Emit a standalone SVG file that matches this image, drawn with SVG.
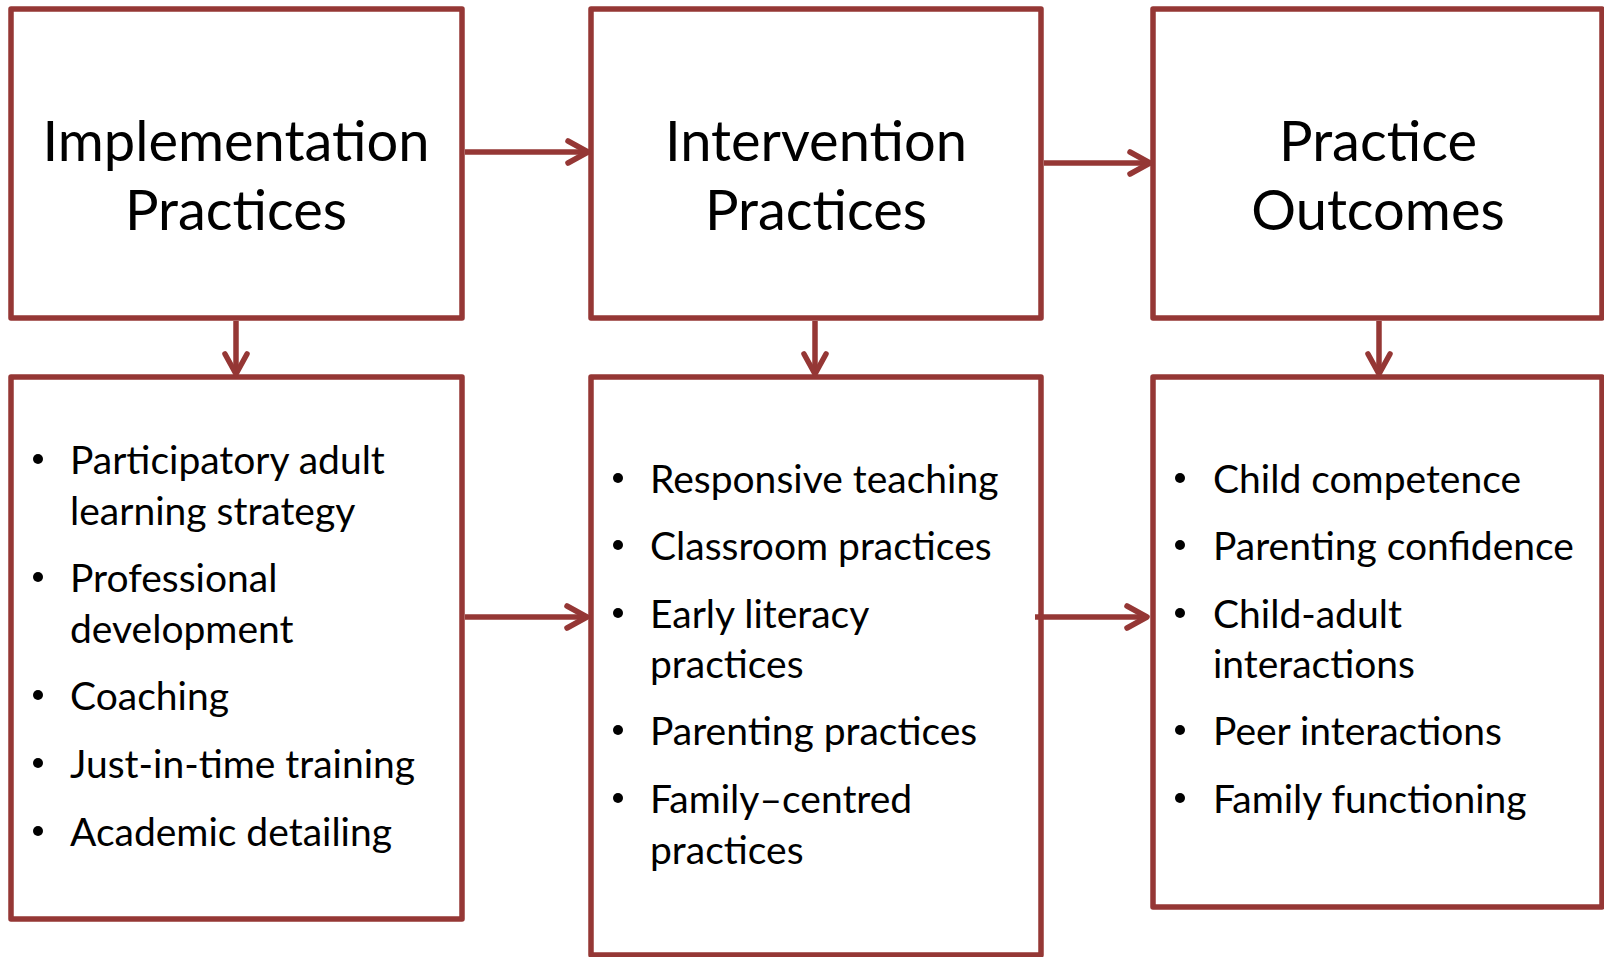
<svg xmlns="http://www.w3.org/2000/svg" width="1604" height="957" viewBox="0 0 1604 957">
<style>
.box{fill:#fff;stroke:#953735;stroke-width:5.5;stroke-linejoin:round}
.t{font-family:Lato,"Open Sans",sans-serif;fill:#000}
.title{font-size:56px;text-anchor:middle}
.item{font-size:39px}
.b{fill:#000}
.conn{stroke:#953735;stroke-width:5.5;fill:none}
</style>
<defs>
<marker id="ah" markerUnits="userSpaceOnUse" viewBox="-26 -16 32 32" refX="0" refY="0" markerWidth="32" markerHeight="32" orient="auto">
<path d="M-20,-11 L0,0 L-20,11" fill="none" stroke="#953735" stroke-width="5.5" stroke-linecap="round" stroke-linejoin="round"/>
</marker>
</defs>
<rect width="1604" height="957" fill="#fff"/>
<g id="implementation">
<rect class="box" x="11" y="9" width="451" height="309"/>
<text class="t title" x="236" y="161">Implementation</text>
<text class="t title" x="236" y="230">Practices</text>
</g>
<g id="intervention">
<rect class="box" x="591" y="9" width="450" height="309"/>
<text class="t title" x="816" y="161">Intervention</text>
<text class="t title" x="816" y="230">Practices</text>
</g>
<g id="outcomes">
<rect class="box" x="1153" y="9" width="449" height="309"/>
<text class="t title" x="1378" y="161">Practice</text>
<text class="t title" x="1378" y="230">Outcomes</text>
</g>
<g id="implementation-list">
<rect class="box" x="11" y="377" width="451" height="542"/>
<circle class="b" cx="38" cy="459" r="5"/>
<text class="t item" x="70" y="474">Participatory adult</text>
<text class="t item" x="70" y="525">learning strategy</text>
<circle class="b" cx="38" cy="577" r="5"/>
<text class="t item" x="70" y="592">Professional</text>
<text class="t item" x="70" y="643">development</text>
<circle class="b" cx="38" cy="695" r="5"/>
<text class="t item" x="70" y="710">Coaching</text>
<circle class="b" cx="38" cy="763" r="5"/>
<text class="t item" x="70" y="778">Just-in-time training</text>
<circle class="b" cx="38" cy="831" r="5"/>
<text class="t item" x="70" y="846">Academic detailing</text>
</g>
<g id="intervention-list">
<rect class="box" x="591" y="377" width="450" height="578"/>
<circle class="b" cx="618" cy="478" r="5"/>
<text class="t item" x="650" y="493">Responsive teaching</text>
<circle class="b" cx="618" cy="545" r="5"/>
<text class="t item" x="650" y="560">Classroom practices</text>
<circle class="b" cx="618" cy="613" r="5"/>
<text class="t item" x="650" y="628">Early literacy</text>
<text class="t item" x="650" y="678">practices</text>
<circle class="b" cx="618" cy="730" r="5"/>
<text class="t item" x="650" y="745">Parenting practices</text>
<circle class="b" cx="618" cy="798" r="5"/>
<text class="t item" x="650" y="813">Family–centred</text>
<text class="t item" x="650" y="864">practices</text>
</g>
<g id="outcomes-list">
<rect class="box" x="1153" y="377" width="449" height="530"/>
<circle class="b" cx="1180" cy="478" r="5"/>
<text class="t item" x="1213" y="493">Child competence</text>
<circle class="b" cx="1180" cy="545" r="5"/>
<text class="t item" x="1213" y="560">Parenting confidence</text>
<circle class="b" cx="1180" cy="613" r="5"/>
<text class="t item" x="1213" y="628">Child-adult</text>
<text class="t item" x="1213" y="678">interactions</text>
<circle class="b" cx="1180" cy="730" r="5"/>
<text class="t item" x="1213" y="745">Peer interactions</text>
<circle class="b" cx="1180" cy="798" r="5"/>
<text class="t item" x="1213" y="813">Family functioning</text>
</g>
<g id="connectors">
<line class="conn" x1="465" y1="152" x2="588" y2="152" marker-end="url(#ah)"/>
<line class="conn" x1="1044" y1="163" x2="1150" y2="163" marker-end="url(#ah)"/>
<line class="conn" x1="236" y1="321" x2="236" y2="374" marker-end="url(#ah)"/>
<line class="conn" x1="815" y1="321" x2="815" y2="374" marker-end="url(#ah)"/>
<line class="conn" x1="1379" y1="321" x2="1379" y2="374" marker-end="url(#ah)"/>
<line class="conn" x1="465" y1="617" x2="587" y2="617" marker-end="url(#ah)"/>
<line class="conn" x1="1035" y1="617" x2="1147" y2="617" marker-end="url(#ah)"/>
</g>
</svg>
